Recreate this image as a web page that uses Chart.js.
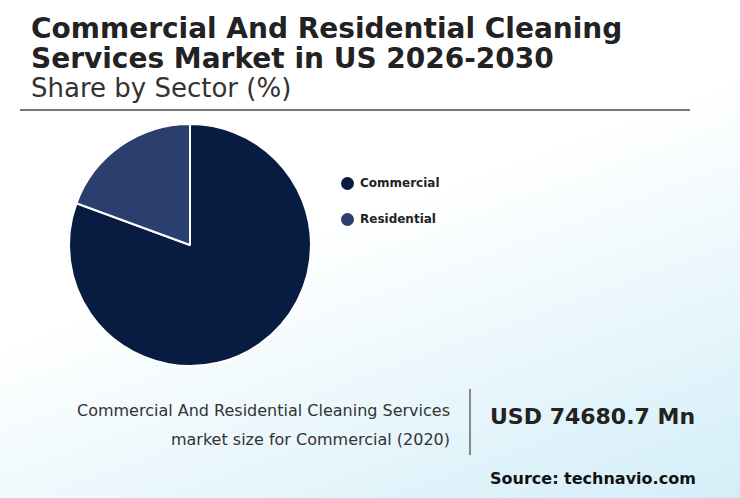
<!DOCTYPE html>
<html><head><meta charset="utf-8">
<script src="https://cdn.jsdelivr.net/npm/chart.js@4"></script>
<style>
body{margin:0;width:740px;height:498px;overflow:hidden;font-family:"DejaVu Sans",sans-serif;
background:linear-gradient(160deg,#ffffff 0%,#ffffff 45%,#d3eef8 100%);position:relative;color:#222}
#t1{position:absolute;left:31px;top:14px;font-weight:bold;font-size:28px;line-height:30px;color:#222}
#t2{position:absolute;left:31px;top:74px;font-size:26px;line-height:28px;color:#333}
#rule{position:absolute;left:20px;top:109px;width:670px;height:2px;background:#777}
#wrap{position:absolute;left:60px;top:115px;width:260px;height:260px}
#leg{position:absolute;left:341px;top:174px;font-size:12px;font-weight:bold}
#leg div{display:flex;align-items:center;height:18px;margin-bottom:18px}
#leg span{display:inline-block;width:13px;height:13px;border-radius:50%;margin-right:6px}
#desc{position:absolute;right:290px;top:396px;text-align:right;font-size:16px;line-height:29px;color:#333;width:440px}
#vr{position:absolute;left:469px;top:389px;width:2px;height:66px;background:#888}
#val{position:absolute;left:490px;top:404px;font-size:22px;font-weight:bold;color:#222}
#src{position:absolute;left:490px;top:469px;font-size:16px;font-weight:bold;color:#111}
</style></head><body>
<div id="t1">Commercial And Residential Cleaning<br>Services Market in US 2026-2030</div>
<div id="t2">Share by Sector (%)</div>
<div id="rule"></div>
<div id="wrap"><canvas id="c"></canvas></div>
<div id="leg"></div>
<div id="desc">Commercial And Residential Cleaning Services<br>market size for Commercial (2020)</div>
<div id="vr"></div>
<div id="val">USD 74680.7 Mn</div>
<div id="src">Source: technavio.com</div>
<script>
const sectors = ['Commercial', 'Residential'];
const shares = [80.6, 19.4];
const colors = ['#081b40', '#2b3f6e'];

document.getElementById('leg').innerHTML = sectors.map((s, i) =>
    `<div><span style="background:${colors[i]}"></span>${s}</div>`).join('');

new Chart(document.getElementById('c'), {
    type: 'pie',
    data: {
        labels: sectors,
        datasets: [{ data: shares, backgroundColor: colors, borderColor: '#ffffff', borderWidth: 2 }]
    },
    options: {
        responsive: true, maintainAspectRatio: false, animation: false,
        layout: { padding: 8 },
        plugins: { legend: { display: false }, tooltip: { enabled: false } }
    }
});
</script>
</body></html>
